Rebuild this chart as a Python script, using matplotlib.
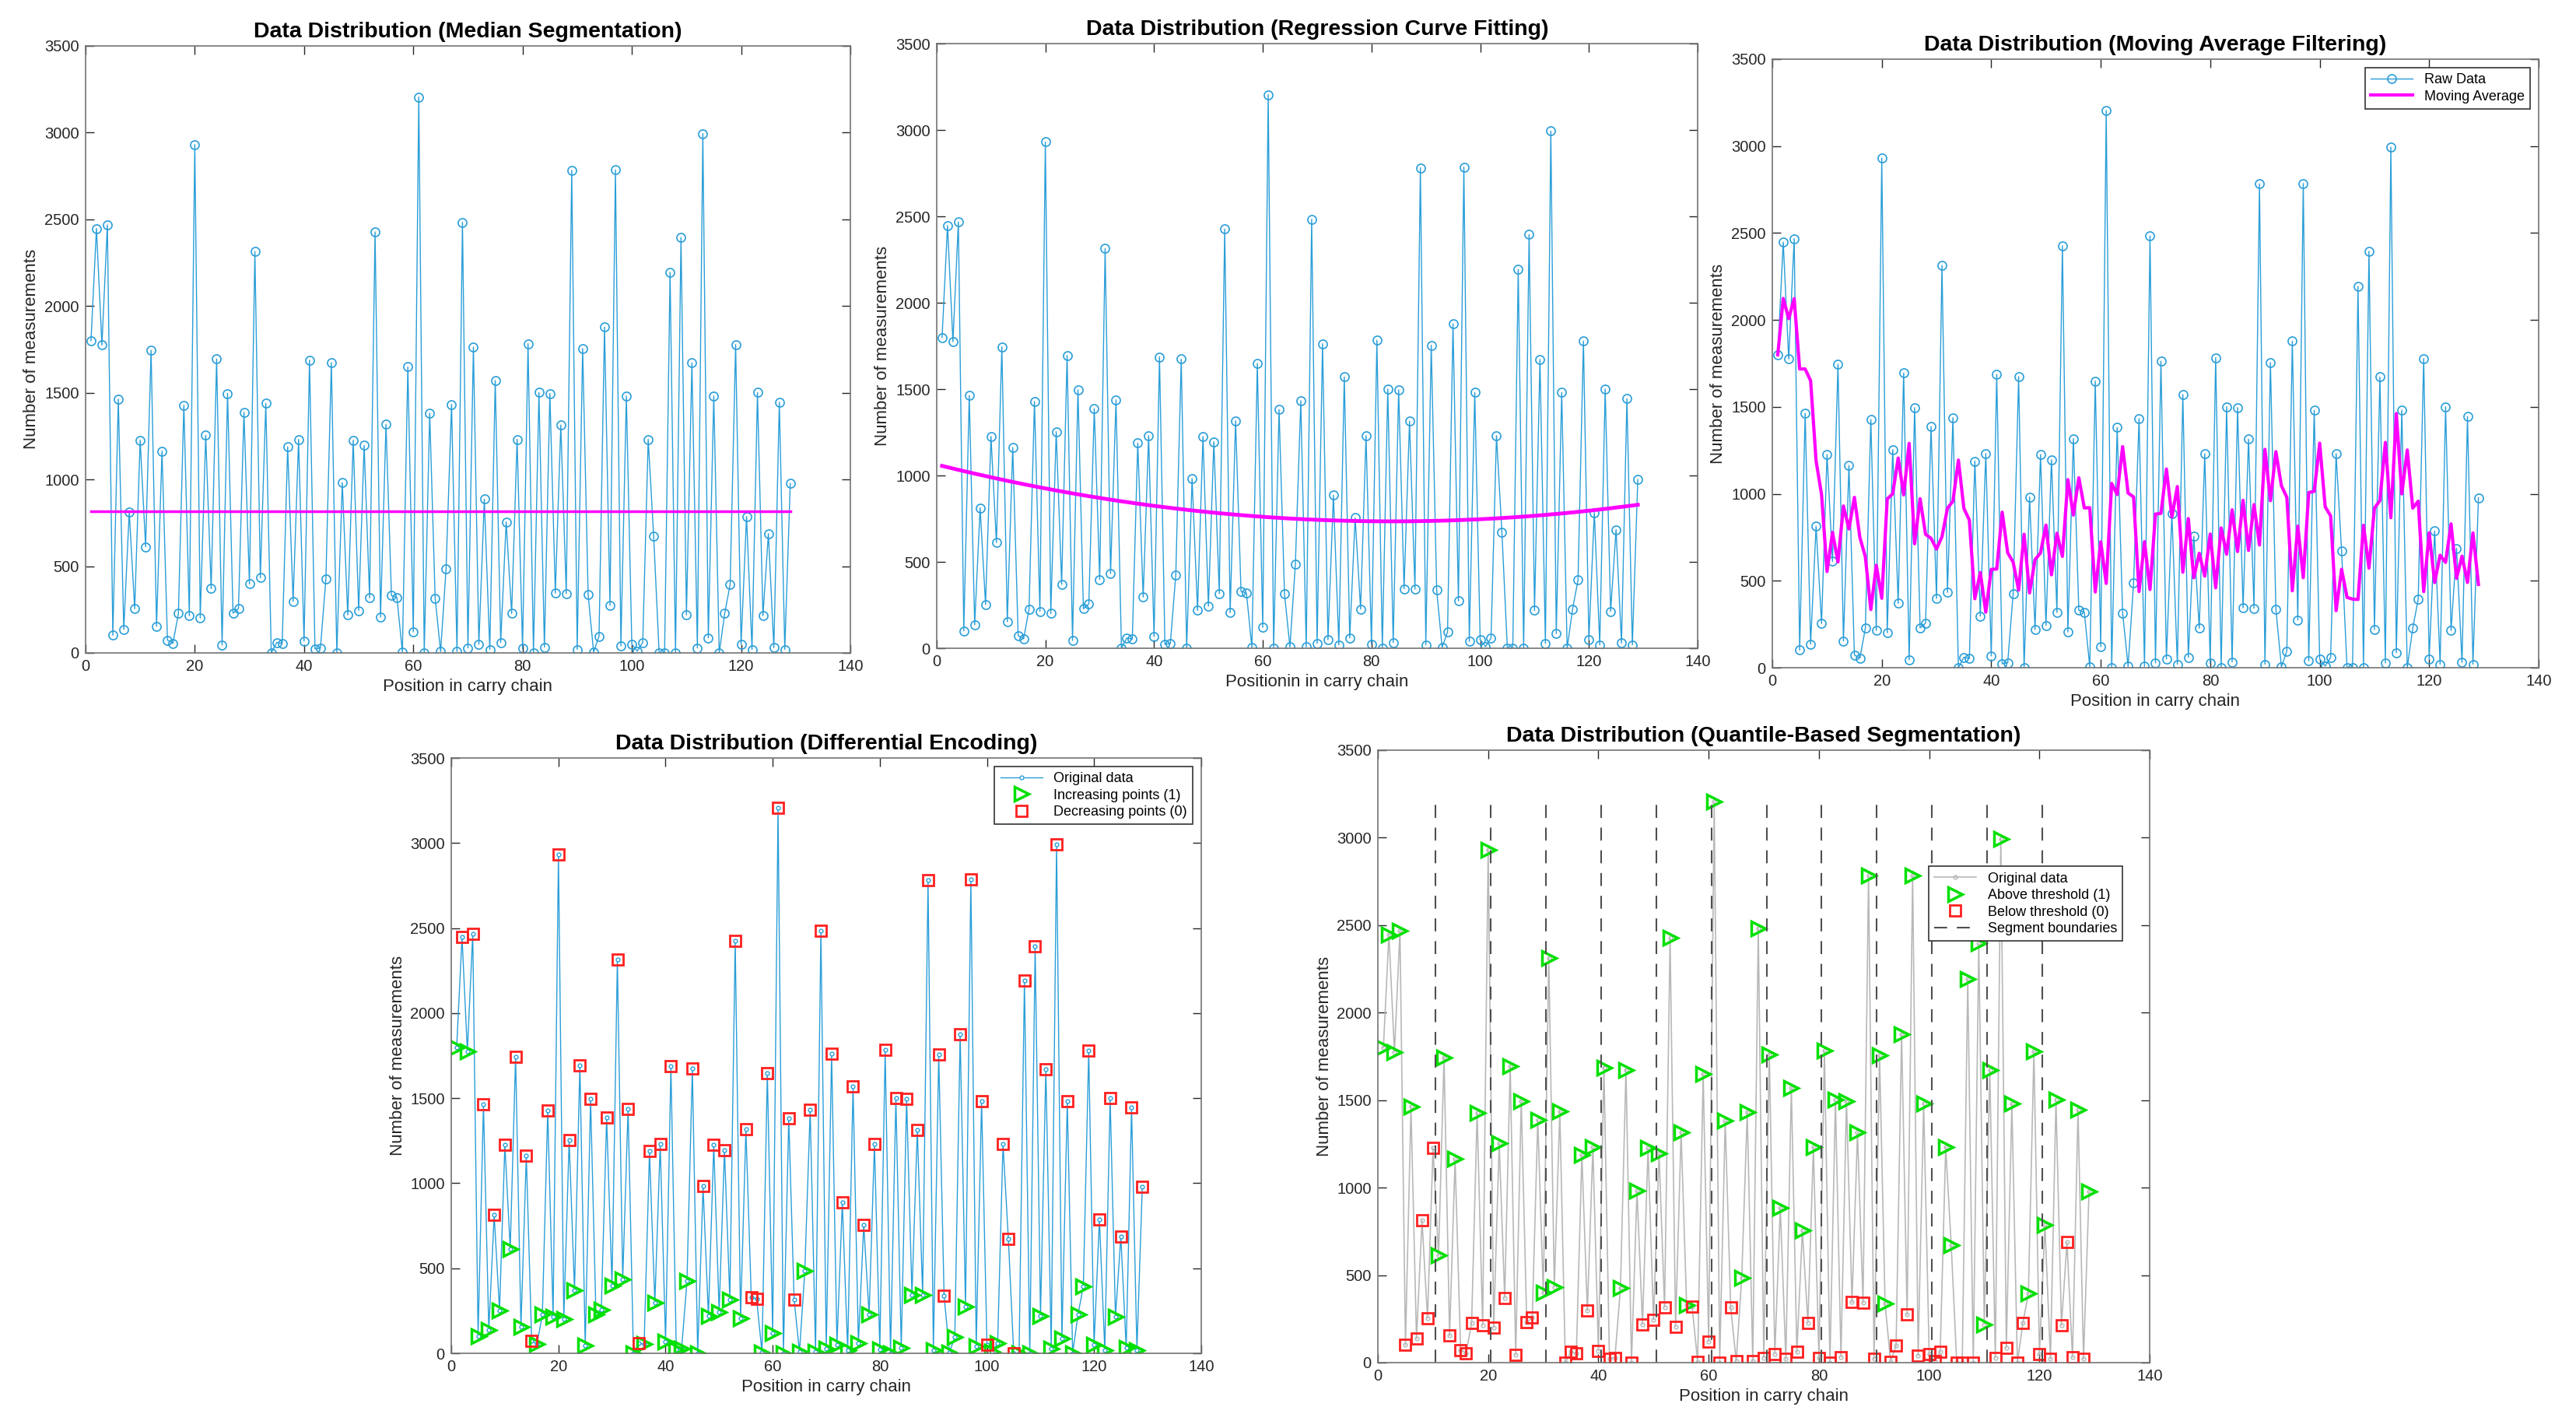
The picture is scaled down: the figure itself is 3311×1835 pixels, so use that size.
import numpy as np
import matplotlib
matplotlib.use("Agg")
import matplotlib.pyplot as plt

plt.rcParams['font.family'] = ['Liberation Sans', 'DejaVu Sans']

counts = [1800, 2447, 1775, 2468, 101, 1463, 136, 813, 254, 1226,
          612, 1745, 154, 1163, 73, 55, 227, 1428, 214, 2931,
          201, 1254, 370, 1695, 45, 1496, 229, 257, 1387, 398,
          2314, 433, 1438, 0, 60, 53, 1188, 297, 1231, 68,
          1687, 23, 28, 426, 1674, 0, 982, 219, 1226, 244,
          1196, 317, 2427, 206, 1317, 330, 320, 5, 1649, 121,
          3205, 0, 1382, 315, 8, 486, 1433, 8, 2483, 28,
          1763, 50, 886, 20, 1571, 60, 755, 227, 1231, 25,
          1783, 0, 1501, 33, 1496, 345, 1314, 342, 2782, 20,
          1755, 337, 5, 96, 1878, 274, 2785, 40, 1481, 50,
          10, 60, 1231, 672, 0, 0, 2193, 0, 2395, 219,
          1672, 28, 2994, 86, 1481, 0, 227, 395, 1778, 50,
          786, 20, 1501, 214, 687, 30, 1445, 20, 977]
seg_len = 10
ma_win = 5

y = np.array(counts, dtype=float)
n = len(y)
x = np.arange(1, n + 1)

# derived series
level = y.mean()          # the "median segmentation" line sits at the mean level
coef = np.polyfit(x, y, 2)
fit = np.polyval(coef, x)
head = np.cumsum(y[:ma_win]) / np.arange(1, ma_win + 1)
valid = np.convolve(y, np.ones(ma_win) / ma_win, mode="valid")
ma = np.concatenate([head, valid])[:n]
inc = np.zeros(n, dtype=bool)
inc[:-1] = y[1:] > y[:-1]
above = np.zeros(n, dtype=bool)
bounds = []
for s in range(0, n, seg_len):
    seg = y[s:s + seg_len]
    above[s:s + seg_len] = seg > np.median(seg)
    if s + seg_len < n:
        bounds.append(s + seg_len + 0.5)

BLUE = "#2A9ED8"
MAG = "#FF00FF"
GREEN = "#00E000"
RED = "#FF2020"
TXT = "#262626"

fig = plt.figure(figsize=(33.11, 18.35), dpi=100)


def style(ax, title, xlabel="Position in carry chain"):
    ax.set_xlim(0, 140)
    ax.set_ylim(0, 3500)
    ax.set_xticks(range(0, 141, 20))
    ax.set_yticks(range(0, 3501, 500))
    ax.tick_params(direction="in", length=8, width=1, labelsize=14.5,
                   colors=TXT, top=True, right=True, pad=6)
    for sp in ax.spines.values():
        sp.set_color("0.45")
        sp.set_linewidth(1.2)
    ax.set_title(title, fontsize=20.5, fontweight="bold", pad=8)
    ax.set_xlabel(xlabel, fontsize=16, color=TXT)
    ax.set_ylabel("Number of measurements", fontsize=16, color=TXT)


def legend(ax, **kw):
    lg = ax.legend(fontsize=13, frameon=True, fancybox=False,
                   edgecolor="0.2", framealpha=1, handlelength=3,
                   borderpad=0.4, labelspacing=0.25, **kw)
    lg.get_frame().set_linewidth(1.2)
    return lg


# --- panel 1: median segmentation ---
ax1 = fig.add_axes([0.0332, 0.5428, 0.2969, 0.4251])
ax1.plot(x, y, "-o", color=BLUE, lw=1.0, ms=8, mfc="none", mew=1.2)
ax1.plot(x, np.full(n, level), color=MAG, lw=2.5)
style(ax1, "Data Distribution (Median Segmentation)")

# --- panel 2: regression curve ---
ax2 = fig.add_axes([0.3636, 0.5460, 0.2954, 0.4234])
ax2.plot(x, y, "-o", color=BLUE, lw=1.0, ms=8, mfc="none", mew=1.2)
ax2.plot(x, fit, color=MAG, lw=3.5)
style(ax2, "Data Distribution (Regression Curve Fitting)",
      xlabel="Positionin in carry chain")

# --- panel 3: moving average ---
ax3 = fig.add_axes([0.6880, 0.5324, 0.2975, 0.4262])
ax3.plot(x, y, "-o", color=BLUE, lw=1.0, ms=8, mfc="none", mew=1.2,
         label="Raw Data")
ax3.plot(x, ma, color=MAG, lw=3.0, label="Moving Average")
style(ax3, "Data Distribution (Moving Average Filtering)")
legend(ax3, loc="upper right", borderaxespad=0.6)

# --- panel 4: differential encoding ---
ax4 = fig.add_axes([0.1752, 0.0523, 0.2911, 0.4169])
ax4.plot(x, y, "-o", color=BLUE, lw=1.0, ms=3.5, mfc="white", mew=1.0,
         label="Original data")
ax4.plot(x[inc], y[inc], ">", color=GREEN, ms=13, mfc="none", mew=2.5,
         ls="none", label="Increasing points (1)")
ax4.plot(x[~inc], y[~inc], "s", color=RED, ms=10, mfc="none", mew=2,
         ls="none", label="Decreasing points (0)")
style(ax4, "Data Distribution (Differential Encoding)")
legend(ax4, loc="upper right", borderaxespad=0.6)

# --- panel 5: quantile-based segmentation ---
ax5 = fig.add_axes([0.5349, 0.0458, 0.2996, 0.4289])
ax5.plot(x, y, "-o", color="#B8B8B8", lw=1.2, ms=3.5, mfc="none", mew=1.0,
         label="Original data")
ax5.plot(x[above], y[above], ">", color=GREEN, ms=13, mfc="none", mew=2.5,
         ls="none", label="Above threshold (1)")
ax5.plot(x[~above], y[~above], "s", color=RED, ms=10, mfc="none", mew=2,
         ls="none", label="Below threshold (0)")
for i, b in enumerate(bounds):
    ax5.plot([b, b], [0, y.max()], color="#505050", lw=1.5,
             dashes=(8, 6), label="Segment boundaries" if i == 0 else None)
style(ax5, "Data Distribution (Quantile-Based Segmentation)")
legend(ax5, loc="upper right", bbox_to_anchor=(0.965, 0.81), borderaxespad=0)

fig.savefig("out.png", dpi=100)
